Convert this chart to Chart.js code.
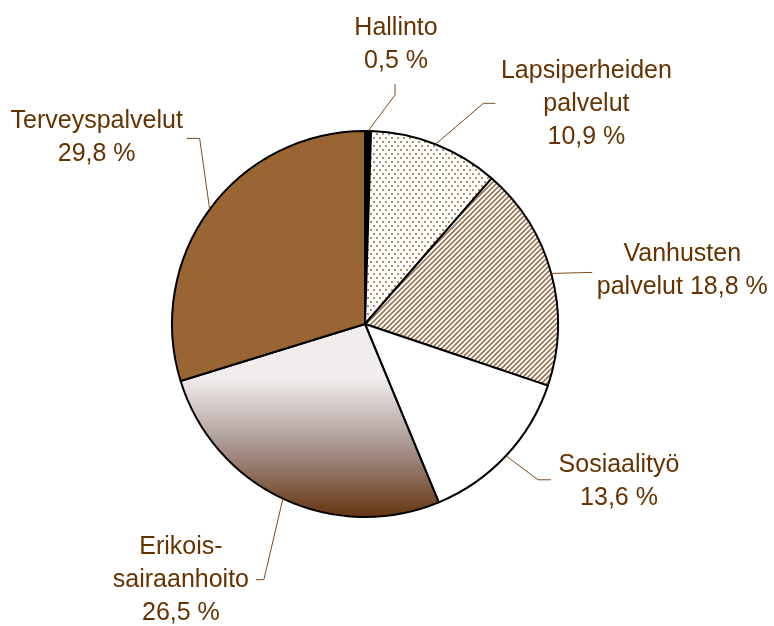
<!DOCTYPE html>
<html>
<head>
<meta charset="utf-8">
<script src="https://cdn.jsdelivr.net/npm/chart.js@4/dist/chart.umd.min.js"></script>
<style>
  html, body { margin: 0; padding: 0; background: #fff; }
  canvas { display: block; }
</style>
</head>
<body>
<canvas id="costChart" width="774" height="626"></canvas>
<script>
const categories = [
  "Hallinto",
  "Lapsiperheiden palvelut",
  "Vanhusten palvelut",
  "Sosiaalityö",
  "Erikoissairaanhoito",
  "Terveyspalvelut"
];
const shares = [0.5, 10.9, 18.8, 13.6, 26.5, 29.8];
// How each label is broken into lines; {v} is replaced by the share.
const labelLines = [
  ["Hallinto", "{v}"],
  ["Lapsiperheiden", "palvelut", "{v}"],
  ["Vanhusten", "palvelut {v}"],
  ["Sosiaalityö", "{v}"],
  ["Erikois-", "sairaanhoito", "{v}"],
  ["Terveyspalvelut", "{v}"]
];

// Leader line bends and label anchors, as offsets from the slice's outer midpoint.
const leaderBends = [
  [[27, -36], [27, -47]],
  [[48, -41], [60, -41]],
  [[41, -1]],
  [[32, 24], [45, 24]],
  [[-19, 81], [-27, 81]],
  [[-10, -71], [-23, -71]]
];
const labelOffsets = [[28, -96], [151, -66], [131, -12], [113, 16], [-102, 55], [-113, -81]];

const TEXT_COLOR = "#663300";
const FONT = "25px 'Liberation Sans', Arial, sans-serif";

function makePattern(size, draw) {
  const c = document.createElement("canvas");
  c.width = size[0];
  c.height = size[1];
  const g = c.getContext("2d");
  g.fillStyle = "#fff";
  g.fillRect(0, 0, c.width, c.height);
  draw(g);
  return document.getElementById("costChart").getContext("2d").createPattern(c, "repeat");
}

const dotPattern = makePattern([6, 8], g => {
  g.fillStyle = "#b48e68";
  g.fillRect(1, 1, 2, 2);
  g.fillRect(4, 5, 2, 2);
});

const hatchPattern = makePattern([5, 5], g => {
  g.strokeStyle = "#9a7552";
  g.lineWidth = 1.6;
  g.beginPath();
  g.moveTo(-1, 6); g.lineTo(6, -1);
  g.moveTo(-1, 1); g.lineTo(1, -1);
  g.moveTo(4, 6); g.lineTo(6, 4);
  g.stroke();
});

function gradientFill(context) {
  const area = context.chart.chartArea;
  if (!area) return "#a58f88";
  const cy = (area.top + area.bottom) / 2;
  const r = (area.bottom - area.top) / 2;
  const grad = context.chart.ctx.createLinearGradient(0, cy + r * 0.28, 0, cy + r);
  grad.addColorStop(0, "#f0edec");
  grad.addColorStop(0.45, "#ad9c97");
  grad.addColorStop(1, "#64340f");
  return grad;
}

const sliceFills = ["#000000", dotPattern, hatchPattern, "#ffffff", null, "#996633"];

const leaderLabelsPlugin = {
  id: "leaderLabels",
  afterDatasetsDraw(chart) {
    const { ctx } = chart;
    const meta = chart.getDatasetMeta(0);
    ctx.save();
    ctx.font = FONT;
    ctx.fillStyle = TEXT_COLOR;
    ctx.strokeStyle = "#7a4a1e";
    ctx.lineWidth = 1;
    ctx.textAlign = "center";
    ctx.textBaseline = "alphabetic";

    meta.data.forEach((arc, i) => {
      const mid = (arc.startAngle + arc.endAngle) / 2;
      const ax = arc.x + Math.cos(mid) * arc.outerRadius;
      const ay = arc.y + Math.sin(mid) * arc.outerRadius;

      ctx.beginPath();
      ctx.moveTo(ax, ay);
      leaderBends[i].forEach(([dx, dy]) => ctx.lineTo(ax + dx, ay + dy));
      ctx.stroke();

      const value = shares[i].toFixed(1).replace(".", ",") + " %";
      const [ox, oy] = labelOffsets[i];
      labelLines[i].forEach((line, n) => {
        ctx.fillText(line.replace("{v}", value), ax + ox, ay + oy + n * 33);
      });
    });
    ctx.restore();
  }
};

new Chart(document.getElementById("costChart"), {
  type: "pie",
  data: {
    labels: categories,
    datasets: [{
      data: shares,
      backgroundColor: ctx => sliceFills[ctx.dataIndex] || gradientFill(ctx),
      borderColor: "#000",
      borderWidth: 2
    }]
  },
  plugins: [leaderLabelsPlugin],
  options: {
    responsive: false,
    animation: false,
    events: [],
    layout: { padding: { left: 171, top: 130, right: 215, bottom: 108 } },
    plugins: {
      legend: { display: false },
      tooltip: { enabled: false }
    }
  }
});
</script>
</body>
</html>
